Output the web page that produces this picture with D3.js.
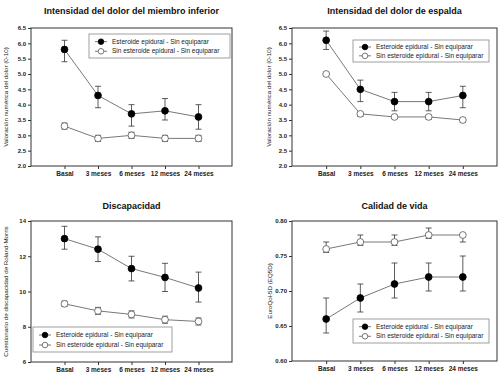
<!DOCTYPE html>
<html>
<head>
<meta charset="utf-8">
<script src="https://cdn.jsdelivr.net/npm/d3@7"></script>
<style>
  body { margin: 0; background: #fff; }
  svg { display: block; font-family: "Liberation Sans", Arial, sans-serif; }
</style>
</head>
<body>
<svg width="500" height="373"></svg>
<script>
"use strict"

// categories and series
let categories = ["Basal", "3 meses", "6 meses", "12 meses", "24 meses"]
let seriesNames = ["Esteroide epidural - Sin equiparar", "Sin esteroide epidural - Sin equiparar"]

// dolor del miembro inferior
let limbSteroid     = [5.8, 4.3, 3.7, 3.8, 3.6]
let limbSteroidLo   = [5.4, 3.9, 3.3, 3.5, 3.2]
let limbSteroidHi   = [6.1, 4.6, 4.0, 4.2, 4.0]
let limbNoSteroid   = [3.3, 2.9, 3.0, 2.9, 2.9]
let limbNoSteroidLo = [3.2, 2.8, 2.9, 2.8, 2.8]
let limbNoSteroidHi = [3.4, 3.0, 3.1, 3.0, 3.0]

// dolor de espalda
let backSteroid     = [6.1, 4.5, 4.1, 4.1, 4.3]
let backSteroidLo   = [5.8, 4.1, 3.8, 3.8, 3.9]
let backSteroidHi   = [6.4, 4.8, 4.4, 4.4, 4.6]
let backNoSteroid   = [5.0, 3.7, 3.6, 3.6, 3.5]
let backNoSteroidLo = [4.95, 3.62, 3.55, 3.52, 3.42]
let backNoSteroidHi = [5.05, 3.75, 3.65, 3.65, 3.57]

// discapacidad (Roland-Morris)
let disSteroid     = [13.0, 12.4, 11.3, 10.8, 10.2]
let disSteroidLo   = [12.4, 11.7, 10.6, 10.0, 9.4]
let disSteroidHi   = [13.7, 13.1, 12.0, 11.6, 11.1]
let disNoSteroid   = [9.3, 8.9, 8.7, 8.4, 8.3]
let disNoSteroidLo = [9.15, 8.7, 8.5, 8.2, 8.1]
let disNoSteroidHi = [9.45, 9.1, 8.9, 8.6, 8.5]

// calidad de vida (EQ5D)
let qolSteroid     = [0.66, 0.69, 0.71, 0.72, 0.72]
let qolSteroidLo   = [0.64, 0.67, 0.69, 0.70, 0.70]
let qolSteroidHi   = [0.69, 0.71, 0.74, 0.74, 0.75]
let qolNoSteroid   = [0.76, 0.77, 0.77, 0.78, 0.78]
let qolNoSteroidLo = [0.755, 0.765, 0.765, 0.775, 0.77]
let qolNoSteroidHi = [0.77, 0.78, 0.78, 0.79, 0.78]

let painTicks = [2.0, 2.5, 3.0, 3.5, 4.0, 4.5, 5.0, 5.5, 6.0, 6.5]
let disTicks = [6, 8, 10, 12, 14]
let qolTicks = [0.60, 0.65, 0.70, 0.75, 0.80]

function series(m, lo, hi) {
  return m.map((v, i) => ({i: i, v: v, lo: lo[i], hi: hi[i]}))
}

/* panel layout */
let panels = [
  {
    title: "Intensidad del dolor del miembro inferior",
    ylabel: "Valoración numérica del dolor (0-10)",
    box: {x0: 31, x1: 232, y0: 28, y1: 166}, titleY: 14, ylabelX: 8,
    domain: [2.0, 6.5], ticks: painTicks, fmt: d3.format(".1f"),
    legend: {x: 89, y: 34, w: 141, h: 24},
    data: [series(limbSteroid, limbSteroidLo, limbSteroidHi), series(limbNoSteroid, limbNoSteroidLo, limbNoSteroidHi)]
  },
  {
    title: "Intensidad del dolor de espalda",
    ylabel: "Valoración numérica del dolor (0-10)",
    box: {x0: 292, x1: 497, y0: 28, y1: 166}, titleY: 14, ylabelX: 271,
    domain: [2.0, 6.5], ticks: painTicks, fmt: d3.format(".1f"),
    legend: {x: 353, y: 40, w: 136, h: 22},
    data: [series(backSteroid, backSteroidLo, backSteroidHi), series(backNoSteroid, backNoSteroidLo, backNoSteroidHi)]
  },
  {
    title: "Discapacidad",
    ylabel: "Cuestionario de discapacidad de Roland-Morris",
    box: {x0: 31, x1: 232, y0: 221, y1: 362}, titleY: 208.5, ylabelX: 8,
    domain: [6, 14], ticks: disTicks, fmt: d3.format("d"),
    legend: {x: 33, y: 327, w: 139, h: 25},
    data: [series(disSteroid, disSteroidLo, disSteroidHi), series(disNoSteroid, disNoSteroidLo, disNoSteroidHi)]
  },
  {
    title: "Calidad de vida",
    ylabel: "EuroQol-5D (EQ5D)",
    box: {x0: 292, x1: 497, y0: 221, y1: 361}, titleY: 208.5, ylabelX: 272,
    domain: [0.60, 0.80], ticks: qolTicks, fmt: d3.format(".2f"),
    legend: {x: 353, y: 319, w: 136, h: 24},
    data: [series(qolSteroid, qolSteroidLo, qolSteroidHi), series(qolNoSteroid, qolNoSteroidLo, qolNoSteroidHi)]
  }
]

let svg = d3.select("svg")
let ink = "#222"
let lineInk = "#555"

panels.forEach(drawPanel)

function drawPanel(p) {
  let g = svg.append("g")
  let b = p.box
  let x = d3.scaleLinear().domain([-1, categories.length]).range([b.x0, b.x1])
  let y = d3.scaleLinear().domain(p.domain).range([b.y1, b.y0])

  // frame
  g.append("rect")
    .attr("x", b.x0).attr("y", b.y0)
    .attr("width", b.x1 - b.x0).attr("height", b.y1 - b.y0)
    .attr("fill", "none").attr("stroke", "#333").attr("stroke-width", 1)

  // y axis
  let yAxis = g.append("g")
    .attr("transform", "translate(" + b.x0 + ",0)")
    .call(d3.axisLeft(y).tickValues(p.ticks).tickFormat(p.fmt).tickSize(3).tickPadding(2))
  yAxis.select(".domain").remove()
  yAxis.selectAll("line").attr("stroke", "#333")
  yAxis.selectAll("text").attr("font-size", 6).attr("font-weight", "bold").attr("fill", ink)

  // x axis
  let xAxis = g.append("g")
    .attr("transform", "translate(0," + b.y1 + ")")
    .call(d3.axisBottom(x).tickValues(d3.range(categories.length)).tickFormat(i => categories[i]).tickSize(3).tickPadding(2.5))
  xAxis.select(".domain").remove()
  xAxis.selectAll("line").attr("stroke", "#333")
  xAxis.selectAll("text").attr("font-size", 6.5).attr("font-weight", "bold").attr("fill", ink)

  // title
  g.append("text")
    .attr("x", (b.x0 + b.x1) / 2).attr("y", p.titleY)
    .attr("text-anchor", "middle")
    .attr("font-size", 9).attr("font-weight", "bold").attr("fill", "#111")
    .text(p.title)

  // y label
  g.append("text")
    .attr("transform", "translate(" + p.ylabelX + "," + ((b.y0 + b.y1) / 2) + ") rotate(-90)")
    .attr("text-anchor", "middle")
    .attr("font-size", 6.2).attr("fill", ink)
    .text(p.ylabel)

  let line = d3.line().x(d => x(d.i)).y(d => y(d.v))

  p.data.forEach((s, k) => {
    let sg = g.append("g")
    sg.append("path").datum(s)
      .attr("d", line).attr("fill", "none")
      .attr("stroke", lineInk).attr("stroke-width", 0.8)

    // error bars
    let eb = sg.selectAll(".err").data(s).enter().append("g")
    eb.append("line")
      .attr("x1", d => x(d.i)).attr("x2", d => x(d.i))
      .attr("y1", d => y(d.lo)).attr("y2", d => y(d.hi))
      .attr("stroke", "#333").attr("stroke-width", 0.8)
    eb.append("line")
      .attr("x1", d => x(d.i) - 3).attr("x2", d => x(d.i) + 3)
      .attr("y1", d => y(d.hi)).attr("y2", d => y(d.hi))
      .attr("stroke", "#333").attr("stroke-width", 0.8)
    eb.append("line")
      .attr("x1", d => x(d.i) - 3).attr("x2", d => x(d.i) + 3)
      .attr("y1", d => y(d.lo)).attr("y2", d => y(d.lo))
      .attr("stroke", "#333").attr("stroke-width", 0.8)

    sg.selectAll("circle").data(s).enter().append("circle")
      .attr("cx", d => x(d.i)).attr("cy", d => y(d.v)).attr("r", 3.4)
      .attr("fill", k == 0 ? "#000" : "#fff")
      .attr("stroke", k == 0 ? "#000" : "#555").attr("stroke-width", 0.8)
  })

  // legend
  let L = p.legend
  let lg = g.append("g")
  lg.append("rect")
    .attr("x", L.x).attr("y", L.y).attr("width", L.w).attr("height", L.h)
    .attr("fill", "#fff").attr("stroke", "#888").attr("stroke-width", 0.8)
  seriesNames.forEach((name, k) => {
    let ry = L.y + L.h * (k == 0 ? 0.32 : 0.72)
    lg.append("line")
      .attr("x1", L.x + 6).attr("x2", L.x + 18)
      .attr("y1", ry).attr("y2", ry)
      .attr("stroke", lineInk).attr("stroke-width", 0.8)
    lg.append("circle")
      .attr("cx", L.x + 12).attr("cy", ry).attr("r", 2.8)
      .attr("fill", k == 0 ? "#000" : "#fff")
      .attr("stroke", k == 0 ? "#000" : "#555").attr("stroke-width", 0.8)
    lg.append("text")
      .attr("x", L.x + 23).attr("y", ry + 2.2)
      .attr("font-size", 6.5).attr("fill", ink)
      .text(name)
  })
}
</script>
</body>
</html>
